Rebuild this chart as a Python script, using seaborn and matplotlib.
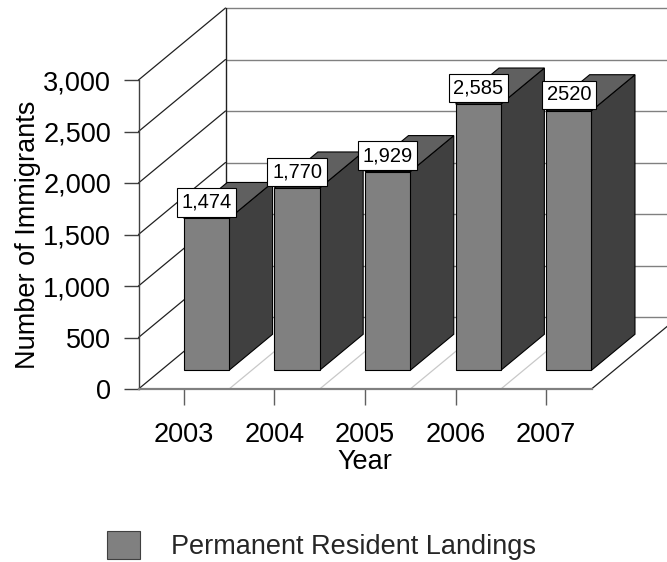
import matplotlib
matplotlib.use("Agg")
import matplotlib.pyplot as plt
import seaborn as sns
from matplotlib.patches import Polygon, Patch
from matplotlib.lines import Line2D
from matplotlib.ticker import FuncFormatter

# ---- data ----
years = ["2003", "2004", "2005", "2006", "2007"]
landings = [1474, 1770, 1929, 2585, 2520]
value_labels = ["1,474", "1,770", "1,929", "2,585", "2520"]
y_ticks = [0, 500, 1000, 1500, 2000, 2500, 3000]
series_name = "Permanent Resident Landings"

sns.set_theme(style="white")
plt.rcParams['font.family'] = ['Liberation Sans', 'DejaVu Sans']

W, H = 667, 562
fig = plt.figure(figsize=(W / 100, H / 100), dpi=100)
L, R, B, T = 138.5, 591.5, 389, 80       # front plane of the 3D box (pixels)
ax = fig.add_axes([L / W, 1 - B / H, (R - L) / W, (B - T) / H])
ax.set_facecolor('none')

FRONT, SIDE, TOP = '#808080', '#404040', '#606060'

sns.barplot(x=years, y=landings, color=FRONT, width=0.5, saturation=1,
            edgecolor='black', linewidth=0.8, ax=ax, zorder=3)
ax.set_xlim(-0.5, len(years) - 0.5)
ax.set_ylim(y_ticks[0], y_ticks[-1])

# oblique depth projection (depth 0 = front, 1 = back wall)
DX = 87 / ((R - L) / len(years))
DY = 72 * (y_ticks[-1] - y_ticks[0]) / (B - T)


def proj(x, y, d):
    return (x + d * DX, y + d * DY)


def seg(p, q, **kw):
    ax.add_line(Line2D([p[0], q[0]], [p[1], q[1]], clip_on=False, **kw))


x_lo, x_hi = -0.5, len(years) - 0.5
# back wall gridlines
for v in y_ticks:
    seg(proj(x_lo, v, 1), proj(x_hi, v, 1), color='#808080', lw=1.0, zorder=1)
# back wall left edge
seg(proj(x_lo, 0, 1), proj(x_lo, y_ticks[-1], 1), color='#202020', lw=1.0, zorder=1.2)
# left wall diagonals
for v in y_ticks:
    seg(proj(x_lo, v, 0), proj(x_lo, v, 1), color='#202020', lw=0.9, zorder=1.2)
# floor lines between categories
for k in range(1, len(years)):
    xb = k - 0.5
    seg(proj(xb, 0, 0), proj(xb, 0, 1), color='#c8c8c8', lw=0.9, zorder=1)
# floor right edge
seg(proj(x_hi, 0, 0), proj(x_hi, 0, 1), color='#202020', lw=0.9, zorder=1.2)

# 3D bars
f1, f2 = 0.26, 0.76
bars = sorted(ax.patches, key=lambda p: p.get_x())
for p, lab in zip(bars, value_labels):
    x0, w, v = p.get_x(), p.get_width(), p.get_height()
    xr = x0 + w
    side = [proj(xr, 0, f1), proj(xr, v, f1), proj(xr, v, f2), proj(xr, 0, f2)]
    top = [proj(x0, v, f1), proj(xr, v, f1), proj(xr, v, f2), proj(x0, v, f2)]
    ax.add_patch(Polygon(side, closed=True, fc=SIDE, ec='black', lw=0.8,
                         clip_on=False, zorder=2.9))
    ax.add_patch(Polygon(top, closed=True, fc=TOP, ec='black', lw=0.8,
                         clip_on=False, zorder=2.9))
    fx, fy = proj(x0, 0, f1)
    p.set_x(fx)
    p.set_y(fy)
    p.set_clip_on(False)
    cx, cy = proj(x0 + w / 2, v, f1)
    ax.annotate(lab, xy=(cx, cy), xytext=(0, 16 * 0.72), textcoords='offset points',
                ha='center', va='center', fontsize=14.5, color='black',
                bbox=dict(boxstyle='square,pad=0.23', fc='white', ec='black', lw=0.8),
                annotation_clip=False, zorder=6)

# axes styling
for s in ['top', 'right']:
    ax.spines[s].set_visible(False)
ax.spines['left'].set_color('#404040')
ax.spines['left'].set_linewidth(1.0)
ax.spines['bottom'].set_color('#808080')
ax.spines['bottom'].set_linewidth(1.6)

ax.set_yticks(y_ticks)
ax.yaxis.set_major_formatter(FuncFormatter(lambda v, _: f"{int(v):,}"))
ax.tick_params(axis='y', left=True, length=10.8, width=1.0, color='#404040',
               pad=9, labelsize=19.5, labelcolor='black', direction='out')
ax.tick_params(axis='x', bottom=True, length=11.5, width=1.0, color='#606060',
               pad=12, labelsize=19.5, labelcolor='black', direction='out')

ax.set_ylabel('Number of Immigrants', fontsize=19.5, color='black')
ax.yaxis.set_label_coords((28 - L) / (R - L), 0.5)
ax.yaxis.label.set_va('center')
ax.set_xlabel('Year', fontsize=19.5, color='black')
ax.xaxis.set_label_coords(0.5, (B - 462) / (B - T))
ax.xaxis.label.set_va('center')

fig.legend(handles=[Patch(facecolor=FRONT, edgecolor='#404040', lw=0.8, label=series_name)],
           loc='center left', bbox_to_anchor=(107 / W, 1 - 545.5 / H),
           frameon=False, fontsize=19.5, handlelength=1.22, handleheight=1.22,
           handletextpad=1.15, borderpad=0, borderaxespad=0)

fig.savefig('out.png', dpi=100)
